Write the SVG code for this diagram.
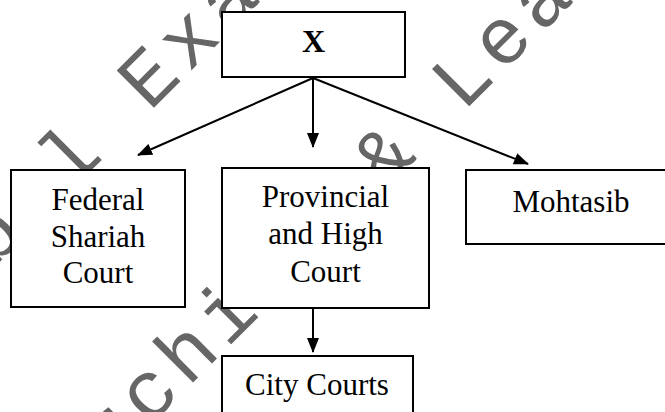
<svg xmlns="http://www.w3.org/2000/svg" width="665" height="412" viewBox="0 0 665 412">
<defs>
<style>
.box{fill:#fff;stroke:#000;stroke-width:2}
.lbl{font-family:"Liberation Serif","Times New Roman",serif;font-size:31px;fill:#000;text-anchor:middle}
.bold{font-weight:bold;font-size:32px}
.wm{font-family:"Liberation Mono","Courier New",monospace;font-size:80px;letter-spacing:7.5px;fill:#666}
.con{stroke:#000;stroke-width:2;fill:none}
</style>
<marker id="ah" viewBox="0 0 15 12" refX="14" refY="6" markerWidth="15" markerHeight="12" markerUnits="userSpaceOnUse" orient="auto">
<path d="M0,0 L15,6 L0,12 z" fill="#000"/>
</marker>
</defs>
<rect width="665" height="412" fill="#fff"/>
<g id="watermark" class="wm" transform="rotate(-45)">
<text x="-362.3" y="185">Global Exam</text>
<text x="-307.5" y="407">Archive &amp; Learning</text>
</g>
<g id="connectors">
<line class="con" x1="313" y1="78" x2="138" y2="155" marker-end="url(#ah)"/>
<line class="con" x1="313" y1="78" x2="313" y2="147" marker-end="url(#ah)"/>
<line class="con" x1="313" y1="78" x2="528" y2="164" marker-end="url(#ah)"/>
<line class="con" x1="313" y1="308" x2="313" y2="352" marker-end="url(#ah)"/>
</g>
<g id="node-x">
<rect class="box" x="222" y="12" width="183" height="65"/>
<text class="lbl bold" x="313.5" y="52">X</text>
</g>
<g id="node-federal">
<rect class="box" x="11" y="170" width="174" height="137"/>
<text class="lbl" x="98" y="210">Federal</text>
<text class="lbl" x="98" y="247">Shariah</text>
<text class="lbl" x="98" y="283">Court</text>
</g>
<g id="node-provincial">
<rect class="box" x="222" y="168" width="207" height="140"/>
<text class="lbl" x="325.5" y="207">Provincial</text>
<text class="lbl" x="325.5" y="244">and High</text>
<text class="lbl" x="325.5" y="282">Court</text>
</g>
<g id="node-mohtasib">
<rect class="box" x="466" y="170" width="210" height="74"/>
<text class="lbl" x="571" y="212">Mohtasib</text>
</g>
<g id="node-city">
<rect class="box" x="222" y="356" width="191" height="70"/>
<text class="lbl" x="317" y="395">City Courts</text>
</g>
</svg>
